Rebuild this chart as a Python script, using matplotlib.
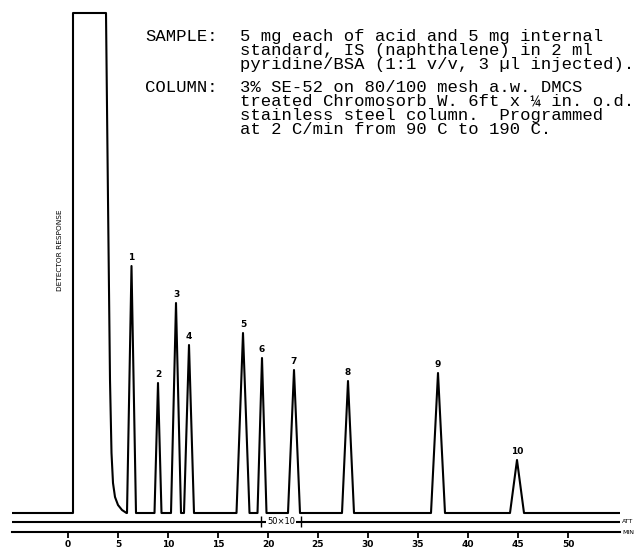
import matplotlib.pyplot as plt

# peaks: retention time (min), height (% of full scale), width at base (min)
peak_labels = ['1', '2', '3', '4', '5', '6', '7', '8', '9', '10']
peak_times = [6.35, 9.0, 10.8, 12.1, 17.5, 19.4, 22.6, 28.0, 37.0, 44.9]
peak_heights = [49.4, 26.0, 42.0, 33.6, 36.0, 31.0, 28.6, 26.4, 28.0, 10.6]
peak_widths = [0.9, 0.7, 1.0, 1.0, 1.3, 0.9, 1.2, 1.2, 1.4, 1.4]

# solvent front, pen runs off scale at 100
solvent_t = [0.5, 0.5, 3.8, 4.0, 4.2, 4.35, 4.5, 4.7, 5.0, 5.4, 5.85]
solvent_v = [0, 100, 100, 62.6, 26.6, 12.0, 6.0, 3.2, 1.6, 0.6, 0]

tick_minutes = [0, 5, 10, 15, 20, 25, 30, 35, 40, 45, 50]
att_marks = [19.3, 23.3]
att_text = '50\u00d710'

sample_lines = [
    '5 mg each of acid and 5 mg internal',
    'standard, IS (naphthalene) in 2 ml',
    'pyridine/BSA (1:1 v/v, 3 \u00b5l injected).',
]
column_lines = [
    '3% SE-52 on 80/100 mesh a.w. DMCS',
    'treated Chromosorb W. 6ft x \u00bc in. o.d.',
    'stainless steel column.  Programmed',
    'at 2 C/min from 90 C to 190 C.',
]

t_start, t_end = -5.6, 55.2
att_y = -1.7
min_y = -3.8

# build the recorder trace
trace_t = [t_start] + solvent_t
trace_v = [0] + solvent_v
for t, h, w in zip(peak_times, peak_heights, peak_widths):
    trace_t += [t - w / 2, t, t + w / 2]
    trace_v += [0, h, 0]
trace_t.append(t_end)
trace_v.append(0)

fig = plt.figure(figsize=(6.39, 5.49), dpi=100)
ax = fig.add_axes([12 / 639, 0, 608 / 639, 1])
ax.plot(trace_t, trace_v, color='black', lw=1.5)
ax.set_xlim(t_start, t_end)
ax.set_ylim(-7.2, 102.6)

for s in ['top', 'left', 'right']:
    ax.spines[s].set_visible(False)
ax.spines['bottom'].set_position(('data', min_y))
ax.spines['bottom'].set_linewidth(1.5)
ax.set_yticks([])
ax.set_xticks(tick_minutes)
ax.tick_params(axis='x', direction='out', length=4, width=1.3, pad=1.5, labelsize=6.5)
for lbl in ax.get_xticklabels():
    lbl.set_fontweight('bold')

# attenuation line
ax.axhline(att_y, color='black', lw=1.5)
ax.vlines(att_marks, att_y - 1.1, att_y + 1.1, color='black', lw=1)
ax.text(sum(att_marks) / 2, att_y, att_text, ha='center', va='center', fontsize=6,
        bbox=dict(facecolor='white', edgecolor='none', pad=0.5))
ax.text(1.004, att_y, 'ATT', transform=ax.get_yaxis_transform(), fontsize=4.5,
        va='center', clip_on=False)
ax.text(1.004, min_y, 'MIN', transform=ax.get_yaxis_transform(), fontsize=4.5,
        va='center', clip_on=False)

for lbl, t, h in zip(peak_labels, peak_times, peak_heights):
    ax.annotate(lbl, (t, h), xytext=(0, 3), textcoords='offset points',
                ha='center', va='bottom', fontsize=6.5, fontweight='bold')

fig.text(60 / 639, 1 - 250 / 549, 'DETECTOR RESPONSE', rotation=90, fontsize=5.3,
         ha='center', va='center')

mono = ['Liberation Mono', 'DejaVu Sans Mono']
fs = 12.4
fig.text(145 / 639, 1 - 41 / 549, 'SAMPLE:', family=mono, fontsize=fs, va='baseline')
for i, line in enumerate(sample_lines):
    fig.text(240 / 639, 1 - (41 + 14 * i) / 549, line, family=mono, fontsize=fs,
             va='baseline')
fig.text(145 / 639, 1 - 92 / 549, 'COLUMN:', family=mono, fontsize=fs, va='baseline')
for i, line in enumerate(column_lines):
    fig.text(240 / 639, 1 - (92 + 14 * i) / 549, line, family=mono, fontsize=fs,
             va='baseline')

fig.savefig('out.png', dpi=100)
